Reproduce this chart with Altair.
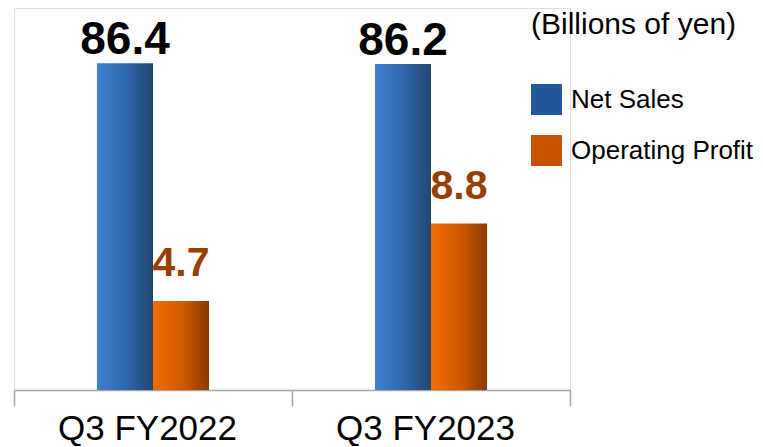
import altair as alt
import pandas as pd

periods = ["Q3 FY2022", "Q3 FY2023"]
series_names = ["Net Sales", "Operating Profit"]
net_sales = [86.4, 86.2]
operating_profit = [4.7, 8.8]
legend_title = "(Billions of yen)"

df = pd.DataFrame({
    "period": periods * 2,
    "series": [series_names[0]] * len(periods) + [series_names[1]] * len(periods),
    "value": net_sales + operating_profit,
})
df["label"] = df["value"].map(lambda v: f"{v:.1f}")

W, H = 556, 382

x_enc = alt.X(
    "period:N", sort=periods,
    scale=alt.Scale(paddingInner=0, paddingOuter=0),
    axis=alt.Axis(title=None, labelAngle=0, labelFont="Liberation Sans", labelFontSize=35,
                  labelColor="black", labelPadding=5, labelOffset=-6, tickBand="extent",
                  tickSize=16, grid=False, tickColor="#a6a6a6", domainColor="#a6a6a6",
                  domainWidth=1.5, tickWidth=1.5),
)
# spacer slots on both sides keep the two bars of a group narrow and centred
offset_domain = ["_left"] + series_names + ["_right"]
xo_enc = alt.XOffset("series:N",
                     scale=alt.Scale(domain=offset_domain, paddingInner=0, paddingOuter=0.48))

y_sales = alt.Y("value:Q", scale=alt.Scale(domain=[0, 101]), axis=None)
y_profit = alt.Y("value:Q", scale=alt.Scale(domain=[0, 20.2]), axis=None)

blue_grad = alt.Gradient(gradient="linear", x1=0, x2=1, y1=0, y2=0, stops=[
    alt.GradientStop(color="#3f81d6", offset=0),
    alt.GradientStop(color="#2f64a8", offset=0.55),
    alt.GradientStop(color="#22466f", offset=1),
])
orange_grad = alt.Gradient(gradient="linear", x1=0, x2=1, y1=0, y2=0, stops=[
    alt.GradientStop(color="#f56d00", offset=0),
    alt.GradientStop(color="#cc5800", offset=0.55),
    alt.GradientStop(color="#8a3a00", offset=1),
])

base = alt.Chart(df)
sales = base.transform_filter(alt.datum.series == "Net Sales")
profit = base.transform_filter(alt.datum.series == "Operating Profit")

sales_bars = sales.mark_bar(fill=blue_grad, strokeWidth=0).encode(x=x_enc, xOffset=xo_enc, y=y_sales)
sales_text = sales.mark_text(font="Liberation Sans", fontWeight="bold", fontSize=46,
                             color="black", baseline="alphabetic", dy=-9).encode(
    x=x_enc, xOffset=xo_enc, y=y_sales, text="label:N")
profit_bars = profit.mark_bar(fill=orange_grad, strokeWidth=0).encode(x=x_enc, xOffset=xo_enc, y=y_profit)
profit_text = profit.mark_text(font="Liberation Sans", fontWeight="bold", fontSize=41,
                               color="#963f00", baseline="alphabetic", dy=-25).encode(
    x=x_enc, xOffset=xo_enc, y=y_profit, text="label:N")

legend_layer = base.mark_point(filled=True, shape="square", opacity=0).encode(
    x=x_enc, xOffset=xo_enc,
    y=alt.Y("value:Q", scale=alt.Scale(domain=[0, 101]), axis=None),
    color=alt.Color("series:N", sort=series_names,
                    scale=alt.Scale(domain=series_names, range=["#22579a", "#c85200"]),
                    legend=alt.Legend(
                        title=legend_title, orient="none", legendX=517, legendY=2,
                        titleFont="Liberation Sans", titleFontSize=30, titleFontWeight="normal",
                        titleColor="black", titlePadding=44, titleBaseline="top", titleLimit=400,
                        labelFont="Liberation Sans", labelFontSize=26, labelColor="black",
                        labelOffset=9, symbolType="square", symbolSize=961, symbolOpacity=1,
                        symbolStrokeWidth=0, rowPadding=20, labelLimit=400)),
)

chart = alt.layer(sales_bars, sales_text, profit_bars, profit_text, legend_layer).resolve_scale(
    y="independent"
).properties(
    width=W, height=H, padding={"left": 5, "top": 0, "right": 0, "bottom": 0}
).configure_view(stroke=None).configure(background="white")

chart.save("out.html", embed_options={"renderer": "svg", "actions": False})
